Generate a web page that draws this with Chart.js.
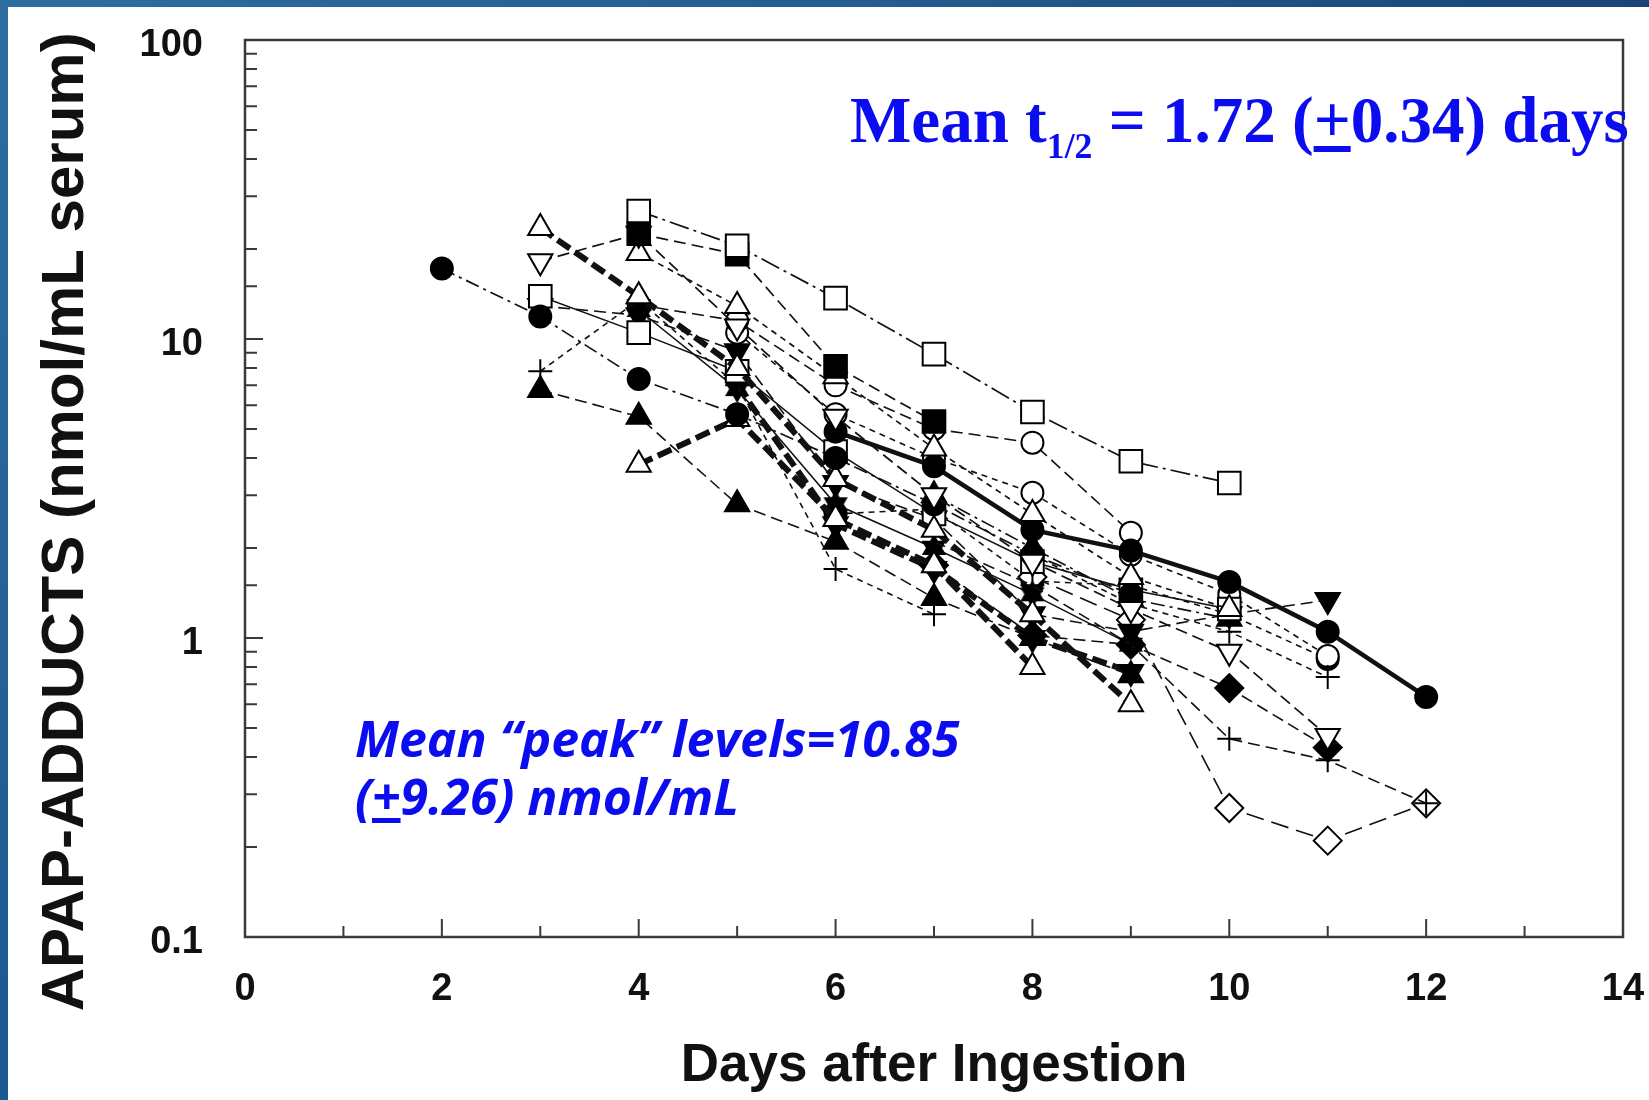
<!DOCTYPE html>
<html><head><meta charset="utf-8">
<script src="https://cdn.jsdelivr.net/npm/chart.js@4.4.1/dist/chart.umd.min.js"></script>
<style>
html,body{margin:0;padding:0;background:#fff;width:1649px;height:1100px;overflow:hidden;}
#wrap{position:relative;width:1649px;height:1100px;background:#fff;}
#c{position:absolute;left:0;top:0;}
.stripL{position:absolute;left:0;top:0;width:8px;height:1100px;background:linear-gradient(180deg,#2d6d9f,#1c5890);}
.stripT{position:absolute;left:0;top:0;width:1649px;height:7px;background:linear-gradient(90deg,#2e6e9f,#24598c 60%,#1a4478);}
.ann1{position:absolute;left:850px;top:88px;font-family:"Liberation Serif","Times New Roman",serif;font-weight:bold;font-size:65px;line-height:1;color:#0c0cf0;white-space:nowrap;}
.ann1 .sub{font-size:0.55em;position:relative;top:16px;}
.ann2{position:absolute;left:355px;top:709px;font-family:"Open Sans",sans-serif;font-weight:bold;font-style:italic;font-size:50px;line-height:58px;color:#0c0cf0;white-space:nowrap;}
</style></head>
<body><div id="wrap">
<canvas id="c" width="1649" height="1100"></canvas>
<div class="stripT"></div><div class="stripL"></div>
<div class="ann1">Mean t<span class="sub">1/2</span> = 1.72 (<u>+</u>0.34) days</div>
<div class="ann2">Mean “peak” levels=10.85<br>(<u>+</u>9.26) nmol/mL</div>
</div>
<script>
// ---------- data ----------
const days = [2, 3, 4, 5, 6, 7, 8, 9, 10, 11, 12];
const xTickValues = [0, 2, 4, 6, 8, 10, 12, 14];
const xTickLabels = ['0', '2', '4', '6', '8', '10', '12', '14'];
const yTickValues = [0.1, 1, 10, 100];
const yTickLabels = ['0.1', '1', '10', '100'];
const xTitle = 'Days after Ingestion';
const yTitle = 'APAP-ADDUCTS (nmol/mL serum)';

const p01 = [null, null, 26.8, 20.5, 13.7, 8.9, 5.7, 3.9, 3.3, null, null];
const p02 = [null, null, 22.5, 19.2, 8.1, 5.3, null, null, null, null, null];
const p03 = [null, 18.2, 22.5, 11.0, 5.5, 3.0, 1.8, 1.25, 0.9, 0.47, null];
const p04 = [null, null, 19.4, 12.9, 7.5, 4.3, 2.6, 1.6, 1.25, null, null];
const p05 = [17.2, 11.9, 7.35, 5.6, 4.0, 2.8, 1.9, 1.4, null, null, null];
const p06 = [null, null, null, null, 4.9, 3.75, 2.3, 1.96, 1.54, 1.05, 0.635];
const p07 = [null, 23.5, 13.9, 8.0, 3.4, 2.3, 1.2, 0.6, null, null, null];
const p08 = [null, null, 3.8, 5.4, 2.5, 1.75, 0.8, null, null, null, null];
const p09 = [null, 13.9, 10.5, 7.8, 4.2, 2.6, 1.8, 1.45, 1.25, null, null];
const p10 = [null, 7.8, 13.5, 7.0, 1.7, 1.2, null, null, null, null, null];
const p11 = [null, null, null, null, null, 2.1, 1.5, 0.95, 0.46, 0.39, 0.28];
const p12 = [null, null, null, null, null, null, 1.9, 1.3, 1.05, 0.74, null];
const p13 = [null, 6.75, 5.5, 2.8, 2.1, 1.36, 1.0, 0.75, null, null, null];
const p14 = [null, 12.9, 12.0, 9.1, 3.3, 2.5, 1.2, 1.05, 1.2, 1.34, null];
const p15 = [null, null, 12.5, 6.8, 2.8, 2.0, 1.4, 0.95, null, null, null];
const p16 = [null, null, 13.0, 11.5, 7.0, 5.0, 4.5, 2.25, null, null, null];
const p17 = [null, null, null, 10.5, 5.6, 4.0, 3.06, 1.9, 1.4, 0.87, null];
const p18 = [null, null, null, null, null, 1.75, 1.02, 0.95, 0.68, 0.43, null];
const p19 = [null, null, null, null, null, null, 1.6, 1.15, 0.27, 0.21, 0.28];
const p20 = [null, null, null, null, null, 3.0, 2.0, 1.35, 1.16, null, null];
const p21 = [null, null, null, null, 2.6, 2.7, 1.55, 1.5, 1.2, 0.85, null];
const p22 = [null, null, null, 7.0, 2.4, 1.7, 1.0, 0.77, null, null, null];

// ---------- styles ----------
function sixStar() {
  const c = document.createElement('canvas'); c.width = 32; c.height = 32;
  const g = c.getContext('2d'); g.fillStyle = '#000';
  const tri = (rot) => { g.beginPath(); for (let k = 0; k < 3; k++) { const a = rot + k * 2 * Math.PI / 3; g.lineTo(16 + Math.sin(a) * 14, 16 - Math.cos(a) * 14); } g.closePath(); g.fill(); };
  tri(0); tri(Math.PI); return c;
}
const STAR = sixStar();
const M = {
  oSq: {ps: 'rect', r: 16, fill: false}, fSq: {ps: 'rect', r: 16, fill: true},
  oCi: {ps: 'circle', r: 11, fill: false}, fCi: {ps: 'circle', r: 11, fill: true},
  oTu: {ps: 'triangle', r: 14, fill: false}, fTu: {ps: 'triangle', r: 14, fill: true},
  oTd: {ps: 'triangle', r: 14, fill: false, rot: 180}, fTd: {ps: 'triangle', r: 14, fill: true, rot: 180},
  oDi: {ps: 'rectRot', r: 14, fill: false}, fDi: {ps: 'rectRot', r: 14, fill: true},
  plus: {ps: 'cross', r: 12, fill: false}, star: {ps: STAR, r: 14, fill: true}
};
const DASH = {solid: [], dash: [12, 6], sdash: [6, 5], ldash: [18, 8], dd: [14, 5, 3, 5], ldd: [20, 5, 3, 5], heavy: [15, 6]};
const series = [
  [p01, 'oSq', 'ldd', 1.7], [p02, 'fSq', 'dash', 1.7], [p03, 'oTd', 'dash', 1.7],
  [p04, 'oTu', 'sdash', 1.7], [p05, 'fCi', 'dd', 1.7], [p06, 'fCi', 'solid', 4.5],
  [p07, 'oTu', 'heavy', 6], [p08, 'oTu', 'heavy', 6], [p09, 'oSq', 'solid', 1.5],
  [p10, 'plus', 'sdash', 1.6], [p11, 'plus', 'dash', 1.6], [p12, 'plus', 'sdash', 1.6],
  [p13, 'fTu', 'dash', 1.6], [p14, 'fTd', 'dash', 1.6], [p15, 'star', 'solid', 1.5],
  [p16, 'oCi', 'dash', 1.6], [p17, 'oCi', 'sdash', 1.6], [p18, 'fDi', 'dash', 1.6],
  [p19, 'oDi', 'ldash', 1.6], [p20, 'fTu', 'dd', 1.6], [p21, 'fCi', 'sdash', 1.6],
  [p22, 'fTd', 'heavy', 6]
];

const datasets = series.map(([vals, mk, ds, bw], i) => {
  const m = M[mk];
  return {
    label: 'Patient ' + (i + 1),
    data: vals.map((v, k) => v == null ? null : {x: days[k], y: v}).filter(Boolean),
    borderColor: '#111', borderWidth: bw, borderDash: DASH[ds], tension: 0,
    pointStyle: m.ps, pointRadius: m.r, pointRotation: m.rot || 0,
    pointBackgroundColor: m.fill ? '#000' : '#fff', pointBorderColor: '#000', pointBorderWidth: 2,
    pointHoverRadius: m.r
  };
});

const isPow10 = v => Math.abs(Math.log10(v) - Math.round(Math.log10(v))) < 1e-6;
const FONT = "'Liberation Sans', Arial, sans-serif";

const frameTicks = {
  id: 'frameTicks',
  beforeDatasetsDraw(chart) {
    const {ctx, chartArea: a, scales: {x, y}} = chart;
    ctx.save();
    ctx.strokeStyle = '#3a3a3a'; ctx.lineWidth = 2.5;
    ctx.strokeRect(a.left, a.top, a.right - a.left, a.bottom - a.top);
    ctx.lineWidth = 2;
    ctx.beginPath();
    x.ticks.forEach(t => {
      if (t.value <= 0 || t.value >= 14) return;
      const px = x.getPixelForValue(t.value);
      const len = (t.value % 2 === 0) ? 18 : 11;
      ctx.moveTo(px, a.bottom); ctx.lineTo(px, a.bottom - len);
    });
    y.ticks.forEach(t => {
      if (t.value <= 0.1000001 || t.value >= 99.9999) return;
      const py = y.getPixelForValue(t.value);
      const len = isPow10(t.value) ? 18 : 12;
      ctx.moveTo(a.left, py); ctx.lineTo(a.left + len, py);
    });
    ctx.stroke();
    ctx.restore();
  }
};

new Chart(document.getElementById('c'), {
  type: 'line',
  data: {datasets},
  plugins: [frameTicks],
  options: {
    responsive: false, animation: false, devicePixelRatio: 1,
    layout: {padding: {left: 0, right: 26, top: 40, bottom: 0}},
    plugins: {legend: {display: false}, tooltip: {enabled: false}},
    events: [],
    scales: {
      x: {
        type: 'linear', min: 0, max: 14,
        afterFit(s) { s.height = 163; s.paddingLeft = 0; s.paddingRight = 0; },
        grid: {display: false, drawTicks: false}, border: {display: false},
        ticks: {stepSize: 1, autoSkip: false, maxRotation: 0, padding: 30, color: '#111',
          font: {family: FONT, size: 38, weight: 'bold'},
          callback: v => { const i = xTickValues.indexOf(v); return i >= 0 ? xTickLabels[i] : ''; }},
        title: {display: true, text: xTitle, color: '#111', padding: {top: 0, bottom: 2},
          font: {family: FONT, size: 53, weight: 'bold'}}
      },
      y: {
        type: 'logarithmic', min: 0.1, max: 100,
        afterFit(s) { s.width = 245; s.paddingTop = 0; s.paddingBottom = 0; },
        grid: {display: false, drawTicks: false}, border: {display: false},
        ticks: {autoSkip: false, padding: 42, labelOffset: 6, color: '#111',
          font: {family: FONT, size: 38, weight: 'bold'},
          callback: v => { const i = yTickValues.findIndex(t => Math.abs(t - v) / t < 1e-6); return i >= 0 ? yTickLabels[i] : ''; }},
        title: {display: true, text: yTitle + '    ', color: '#111', padding: {top: 30, bottom: 0},
          font: {family: FONT, size: 60, weight: 'bold'}}
      }
    }
  }
});
</script>
</body></html>
